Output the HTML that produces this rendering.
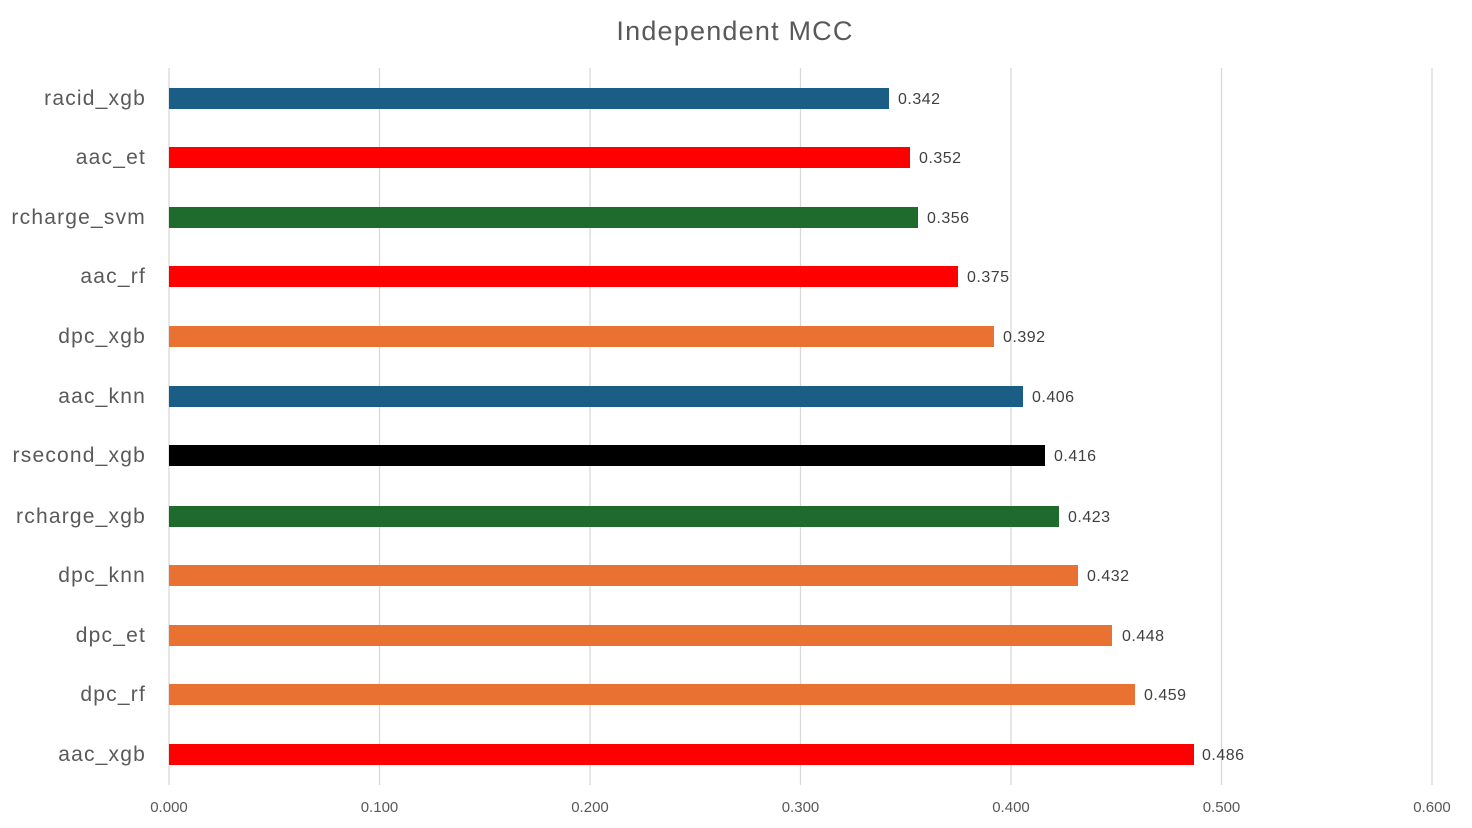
<!DOCTYPE html>
<html><head><style>
html,body{margin:0;padding:0;background:#fff;}
svg{display:block;font-family:"Liberation Sans",sans-serif;}
</style></head><body>
<svg width="1472" height="828" xmlns="http://www.w3.org/2000/svg">
<rect width="1472" height="828" fill="#fff"/>
<text x="735" y="40" text-anchor="middle" font-size="27" letter-spacing="1.2" fill="#595959">Independent MCC</text>
<g stroke="#d9d9d9" stroke-width="1.3">
<line x1="169" y1="68" x2="169" y2="785"/>
<line x1="379.5" y1="68" x2="379.5" y2="785"/>
<line x1="590" y1="68" x2="590" y2="785"/>
<line x1="800.5" y1="68" x2="800.5" y2="785"/>
<line x1="1011" y1="68" x2="1011" y2="785"/>
<line x1="1221.5" y1="68" x2="1221.5" y2="785"/>
<line x1="1432" y1="68" x2="1432" y2="785"/>
</g>
<g font-size="15" fill="#595959" text-anchor="middle">
<text x="169" y="812">0.000</text><text x="379.5" y="812">0.100</text><text x="590" y="812">0.200</text><text x="800.5" y="812">0.300</text><text x="1011" y="812">0.400</text><text x="1221.5" y="812">0.500</text><text x="1432" y="812">0.600</text>
</g>
<g font-size="21" fill="#595959" text-anchor="end" letter-spacing="1.2">
<text x="146" y="105">racid_xgb</text>
<text x="146" y="164">aac_et</text>
<text x="146" y="224">rcharge_svm</text>
<text x="146" y="283">aac_rf</text>
<text x="146" y="343">dpc_xgb</text>
<text x="146" y="403">aac_knn</text>
<text x="146" y="462">rsecond_xgb</text>
<text x="146" y="523">rcharge_xgb</text>
<text x="146" y="582">dpc_knn</text>
<text x="146" y="642">dpc_et</text>
<text x="146" y="701">dpc_rf</text>
<text x="146" y="761">aac_xgb</text>
</g>
<g>
<rect x="169" y="88" width="720" height="21" fill="#1a5e86"/>
<rect x="169" y="147" width="741" height="21" fill="#ff0000"/>
<rect x="169" y="207" width="749" height="21" fill="#1e6b2d"/>
<rect x="169" y="266" width="789" height="21" fill="#ff0000"/>
<rect x="169" y="326" width="825" height="21" fill="#e97132"/>
<rect x="169" y="386" width="854" height="21" fill="#1a5e86"/>
<rect x="169" y="445" width="876" height="21" fill="#000000"/>
<rect x="169" y="506" width="890" height="21" fill="#1e6b2d"/>
<rect x="169" y="565" width="909" height="21" fill="#e97132"/>
<rect x="169" y="625" width="943" height="21" fill="#e97132"/>
<rect x="169" y="684" width="966" height="21" fill="#e97132"/>
<rect x="169" y="744" width="1025" height="21" fill="#ff0000"/>
</g>
<g font-size="16" fill="#404040" letter-spacing="0.5">
<text x="898" y="104">0.342</text>
<text x="919" y="163">0.352</text>
<text x="927" y="223">0.356</text>
<text x="967" y="282">0.375</text>
<text x="1003" y="342">0.392</text>
<text x="1032" y="402">0.406</text>
<text x="1054" y="461">0.416</text>
<text x="1068" y="522">0.423</text>
<text x="1087" y="581">0.432</text>
<text x="1122" y="641">0.448</text>
<text x="1144" y="700">0.459</text>
<text x="1202" y="760">0.486</text>
</g>
</svg>
</body></html>
